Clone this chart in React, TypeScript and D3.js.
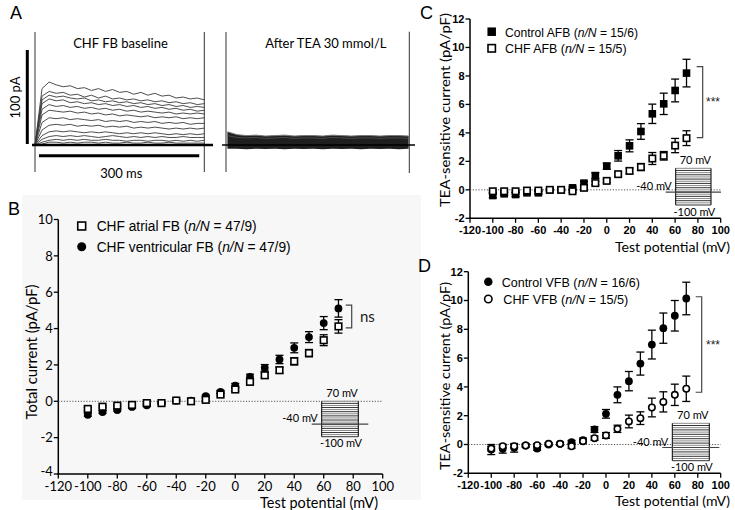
import React, { useLayoutEffect, useRef, useState } from "react";
import * as d3 from "d3";

// ---------------- data ----------------
const voltages = [-100, -90, -80, -70, -60, -50, -40, -30, -20, -10, 0, 10, 20, 30, 40, 50, 60, 70];
const xTickValues = [-120, -100, -80, -60, -40, -20, 0, 20, 40, 60, 80, 100];
const yTicksB = [-4, -2, 0, 2, 4, 6, 8, 10];
const yTicksCD = [-2, 0, 2, 4, 6, 8, 10, 12];

// Panel B (total current, pA/pF)
const bAtrialMean = [-0.42, -0.3, -0.24, -0.2, -0.1, -0.1, 0.04, 0.0, 0.08, 0.37, 0.65, 1.07, 1.43, 1.71, 2.2, 2.65, 3.36, 4.12];
const bAtrialSem = [0.08, 0.06, 0.05, 0.05, 0.05, 0.05, 0.05, 0.05, 0.06, 0.08, 0.1, 0.12, 0.14, 0.17, 0.2, 0.2, 0.3, 0.37];
const bVentMean = [-0.74, -0.59, -0.48, -0.31, -0.22, -0.09, 0.04, 0.04, 0.28, 0.51, 0.86, 1.34, 1.84, 2.3, 2.94, 3.53, 4.3, 5.11];
const bVentSem = [0.08, 0.07, 0.06, 0.06, 0.05, 0.05, 0.05, 0.05, 0.07, 0.09, 0.12, 0.15, 0.18, 0.23, 0.27, 0.3, 0.36, 0.48];

// Panel C (TEA-sensitive, atrial)
const cControlMean = [-0.4, -0.28, -0.33, -0.21, -0.21, 0, 0, 0.14, 0.47, 1.0, 1.66, 2.39, 3.09, 4.1, 5.34, 6.04, 6.98, 8.2];
const cControlSem = [0.15, 0.12, 0.15, 0.1, 0.1, 0.08, 0.08, 0.1, 0.12, 0.2, 0.22, 0.37, 0.42, 0.55, 0.68, 0.75, 0.8, 0.97];
const cChfMean = [-0.1, -0.1, -0.1, -0.05, -0.05, 0, 0, -0.1, 0.14, 0.47, 0.63, 1.1, 1.33, 1.6, 2.2, 2.39, 3.11, 3.63];
const cChfSem = [0.08, 0.08, 0.08, 0.08, 0.06, 0.06, 0.06, 0.08, 0.1, 0.12, 0.12, 0.15, 0.2, 0.25, 0.42, 0.3, 0.5, 0.52];

// Panel D (TEA-sensitive, ventricular)
const dControlMean = [-0.35, -0.3, -0.23, -0.07, -0.28, 0, 0.05, 0.16, 0.3, 1.04, 2.13, 3.45, 4.4, 5.62, 6.94, 8.08, 8.94, 10.14];
const dControlSem = [0.35, 0.3, 0.3, 0.1, 0.12, 0.1, 0.1, 0.12, 0.15, 0.2, 0.3, 0.55, 0.67, 0.8, 1.0, 1.05, 1.06, 1.13];
const dChfMean = [-0.28, -0.12, -0.12, -0.07, -0.05, 0.05, 0.05, -0.12, 0.23, 0.44, 0.63, 1.09, 1.6, 1.83, 2.57, 2.96, 3.45, 3.87];
const dChfSem = [0.15, 0.12, 0.12, 0.1, 0.1, 0.08, 0.08, 0.15, 0.12, 0.15, 0.2, 0.25, 0.44, 0.44, 0.65, 0.7, 0.74, 0.88];

// significance brackets [top, bottom] in pA/pF
const bBracket = [5.29, 4.04];
const cBracket = [8.65, 3.67];
const dBracket = [10.26, 3.63];

// Voltage protocol
const protocolSteps = voltages;
const holdingPotential = -40;

// Panel A traces (pA), sampled evenly over the 317 ms sweep
const sweepMs = 317;
const baselineTraces = [
  [0, 60, 67, 64, 62, 63, 60, 61, 58, 60, 57, 59, 56, 57, 54, 56, 53, 55, 52, 53, 50, 51, 49, 50, 48],
  [0, 52, 57, 55, 56, 53, 54, 51, 53, 50, 52, 49, 50, 48, 49, 47, 48, 46, 47, 45, 46, 44, 45, 43, 44],
  [0, 48, 53, 51, 52, 50, 49, 50, 47, 48, 46, 47, 45, 46, 44, 45, 43, 44, 42, 43, 41, 42, 40, 41, 40],
  [0, 44, 49, 47, 48, 45, 46, 44, 45, 43, 44, 42, 43, 41, 42, 40, 41, 39, 40, 38, 39, 37, 38, 36, 37],
  [0, 38, 43, 41, 42, 40, 41, 39, 40, 38, 39, 37, 38, 36, 37, 35, 36, 35, 34, 35, 33, 34, 33, 34, 33],
  [0, 32, 37, 36, 35, 36, 34, 35, 33, 34, 32, 33, 31, 32, 31, 30, 31, 29, 30, 29, 30, 28, 29, 28, 29],
  [0, 24, 29, 28, 29, 27, 28, 27, 26, 27, 25, 26, 25, 26, 24, 25, 24, 25, 23, 24, 23, 24, 22, 23, 23],
  [0, 16, 21, 22, 21, 22, 20, 21, 20, 21, 19, 20, 19, 20, 18, 19, 18, 19, 18, 17, 18, 17, 18, 17, 18],
  [0, 10, 14, 15, 14, 15, 14, 13, 14, 13, 14, 13, 12, 13, 12, 13, 12, 13, 12, 11, 12, 11, 12, 11, 12],
  [0, 6, 9, 10, 9, 10, 9, 10, 9, 8, 9, 10, 9, 8, 9, 8, 9, 8, 9, 8, 8, 9, 8, 8, 8],
  [0, 3, 5, 6, 5, 6, 5, 6, 5, 5, 6, 5, 5, 4, 5, 5, 4, 5, 5, 4, 5, 4, 5, 4, 5],
  [0, 1, 3, 3, 2, 3, 2, 3, 3, 2, 3, 2, 2, 3, 2, 2, 3, 2, 2, 3, 2, 2, 2, 2, 2],
];
const teaUpper = [14, 11, 10, 10.5, 9.5, 10, 10.5, 9.5, 10, 10, 9.5, 10.5, 10, 9.5, 10, 10, 9.5, 10, 10, 9.5];
const teaInner = [10, 8, 7.5, 8, 7, 7.5, 8, 7, 7.5, 7.5, 7, 8, 7.5, 7, 7.5, 7.5, 7, 7.5, 7.5, 7];
const teaLower = [-4, -4, -4.5, -4, -4.2, -4, -4.5, -4, -4.2, -4, -4.5, -4, -4.2, -4, -4.5, -4, -4.2, -4, -4.5, -4];
const scaleBarPA = 100;
const scaleBarMs = 300;

// ---------------- styling ----------------
const CAL = "Lato, 'Open Sans', 'DejaVu Sans', sans-serif";
const ARI = "'Liberation Sans', Arial, sans-serif";
const ARIN = "'Liberation Sans Narrow', 'Arial Narrow', 'Liberation Sans', Arial, sans-serif";

type Lin = d3.ScaleLinear<number, number>;

function Marker({ shape, filled, cx, cy, size }: { shape: string; filled: boolean; cx: number; cy: number; size: number }) {
  const sw = 1.6;
  if (shape === "square") {
    const s = filled ? size : size - sw;
    return <rect x={cx - s / 2} y={cy - s / 2} width={s} height={s} fill={filled ? "#000" : "#fff"} stroke="#000" strokeWidth={filled ? 0 : sw} />;
  }
  const r = filled ? size / 2 : (size - sw) / 2;
  return <circle cx={cx} cy={cy} r={r} fill={filled ? "#000" : "#fff"} stroke="#000" strokeWidth={filled ? 0 : sw} />;
}

function Series({ x, y, mean, sem, shape, filled, size }: { x: Lin; y: Lin; mean: number[]; sem: number[]; shape: string; filled: boolean; size: number }) {
  return (
    <g>
      {voltages.map((v, i) => {
        const cx = x(v);
        const top = y(mean[i] + sem[i]);
        const bot = y(mean[i] - sem[i]);
        return (
          <g key={v} stroke="#000" strokeWidth={1.3}>
            <line x1={cx} x2={cx} y1={top} y2={bot} />
            <line x1={cx - 4} x2={cx + 4} y1={top} y2={top} />
            <line x1={cx - 4} x2={cx + 4} y1={bot} y2={bot} />
          </g>
        );
      })}
      {voltages.map((v, i) => (
        <Marker key={"m" + v} shape={shape} filled={filled} cx={x(v)} cy={y(mean[i])} size={size} />
      ))}
    </g>
  );
}

function Axes({ x, y, yTicks, font, size, weight, xLabelBaseline, lowLift = 0 }: { x: Lin; y: Lin; yTicks: number[]; font: string; size: number; weight: string; xLabelBaseline: number; lowLift?: number }) {
  const [x0, x1] = x.range();
  const [yb, yt] = y.range();
  return (
    <g>
      <line x1={x0} x2={x0} y1={yt} y2={yb} stroke="#000" strokeWidth={1.5} />
      <line x1={x0 - 0.75} x2={x1} y1={yb} y2={yb} stroke="#000" strokeWidth={1.5} />
      {yTicks.map((t, i) => (
        <g key={"y" + t}>
          <line x1={x0 - 4.5} x2={x0} y1={y(t)} y2={y(t)} stroke="#000" strokeWidth={1.3} />
          <text x={x0 - 5.5} y={y(t) - (i === 0 ? lowLift : 0)} dy="0.36em" textAnchor="end" fontFamily={font} fontSize={size} fontWeight={weight}>{t}</text>
        </g>
      ))}
      {xTickValues.map((t) => (
        <g key={"x" + t}>
          <line x1={x(t)} x2={x(t)} y1={yb} y2={yb + 4.5} stroke="#000" strokeWidth={1.3} />
          <text x={x(t)} y={xLabelBaseline} textAnchor="middle" fontFamily={font} fontSize={size} fontWeight={weight}>{t}</text>
        </g>
      ))}
      <line x1={x0} x2={x1} y1={y(0)} y2={y(0)} stroke="#555" strokeWidth={1} strokeDasharray="1.2 1.6" />
    </g>
  );
}

function Protocol({ left, right, top, bottom }: { left: number; right: number; top: number; bottom: number }) {
  const s = d3.scaleLinear().domain([d3.min(protocolSteps)!, d3.max(protocolSteps)!]).range([bottom, top]);
  const cx = (left + right) / 2;
  return (
    <g>
      <rect x={left} y={top} width={right - left} height={bottom - top} fill="#fff" />
      {protocolSteps.map((v, i) => (
        <line key={v} x1={left} x2={right} y1={s(v)} y2={s(v)} stroke={i % 2 ? "#8a8a8a" : "#333"} strokeWidth={1} />
      ))}
      <line x1={left} x2={left} y1={top} y2={bottom} stroke="#000" strokeWidth={1} />
      <line x1={right} x2={right} y1={top} y2={bottom} stroke="#000" strokeWidth={1} />
      <line x1={left - 10} x2={right + 10} y1={s(holdingPotential)} y2={s(holdingPotential)} stroke="#444" strokeWidth={1.2} />
      <text x={cx + 2} y={top - 4.5} textAnchor="middle" fontFamily={CAL} fontSize={11}>70 mV</text>
      <text x={left - 4} y={s(holdingPotential) - 2} textAnchor="end" fontFamily={CAL} fontSize={11}>-40 mV</text>
      <text x={cx + 1} y={bottom + 10.5} textAnchor="middle" fontFamily={CAL} fontSize={11}>-100 mV</text>
    </g>
  );
}

function Bracket({ y, xPos, vals, label, labelX, font, size }: { y: Lin; xPos: number; vals: number[]; label: string; labelX: number; font: string; size: number }) {
  const t = y(vals[0]);
  const b = y(vals[1]);
  return (
    <g>
      <path d={`M${xPos - 6},${t}H${xPos}V${b}H${xPos - 6}`} fill="none" stroke="#444" strokeWidth={1.2} />
      <text x={labelX} y={(t + b) / 2} dy="0.35em" fontFamily={font} fontSize={size} fill="#222">{label}</text>
    </g>
  );
}

// legend label: plain text + italic "n/N" + plain text laid out side by side;
// the font size is reduced if needed so the whole label fits the reference width
function LegendText({ x, y, pre, post, len }: { x: number; y: number; pre: string; post: string; len: number }) {
  const r0 = useRef<SVGTextElement>(null);
  const r1 = useRef<SVGTextElement>(null);
  const r2 = useRef<SVGTextElement>(null);
  const refs = [r0, r1, r2];
  const [w, setW] = useState<number[] | null>(null);
  useLayoutEffect(() => {
    if (!w) setW(refs.map((r) => (r.current ? r.current.getComputedTextLength() : 10)));
  }, []);
  const base = 14;
  const parts = [pre, "n/N", post];
  let offs = [0, 0, 0];
  let k = 1;
  if (w) {
    const tot = w[0] + w[1] + w[2];
    k = Math.min(1, len / tot);
    offs = [0, w[0] * k, (w[0] + w[1]) * k];
  }
  return (
    <g>
      {parts.map((p, i) => (
        <text
          key={i}
          ref={refs[i]}
          x={x + offs[i]}
          y={y}
          fontFamily={ARIN}
          fontSize={base * k}
          fontStyle={i === 1 ? "italic" : "normal"}
          style={{ whiteSpace: "pre" }}
          opacity={w ? 1 : 0}
        >
          {p}
        </text>
      ))}
    </g>
  );
}

function PanelA() {
  const t = d3.scaleLinear().domain([0, sweepMs]).range([35, 204.3]);
  const yA = d3.scaleLinear().domain([0, scaleBarPA]).range([145, 51]);
  const n = baselineTraces[0].length;
  const line = d3.line<number>().x((_, i) => t((i * sweepMs) / (n - 1))).y((v) => yA(v));
  const tt = d3.scaleLinear().domain([0, sweepMs]).range([226, 409]);
  const m = teaUpper.length;
  const tx = (i: number) => tt(((i + 0.15) * sweepMs) / (m - 1) * 0.99);
  const area = d3.area<number>().x((_, i) => tx(i)).y0((_, i) => yA(teaLower[i])).y1((v) => yA(v));
  const lineT = d3.line<number>().x((_, i) => tx(i)).y((v) => yA(v));
  return (
    <g>
      <text x={10} y={19} fontFamily={ARI} fontSize={18}>A</text>
      <text x={120.5} y={47.5} textAnchor="middle" fontFamily={CAL} fontSize={13}>CHF FB baseline</text>
      <text x={325.8} y={47.5} textAnchor="middle" fontFamily={CAL} fontSize={13}>After TEA 30 mmol/L</text>
      {/* scale bars */}
      <line x1={27.3} x2={27.3} y1={yA(0) - 1} y2={yA(scaleBarPA) - 1} stroke="#000" strokeWidth={3} />
      <text transform={`translate(19.5,97.5) rotate(-90)`} textAnchor="middle" fontFamily={CAL} fontSize={13}>100 pA</text>
      <line x1={t(7.5)} x2={t(7.5 + scaleBarMs)} y1={155.7} y2={155.7} stroke="#000" strokeWidth={3} />
      <text x={121.3} y={177.5} textAnchor="middle" fontFamily={CAL} fontSize={13}>300 ms</text>
      {/* baseline sweep */}
      <line x1={35} x2={35} y1={32} y2={172} stroke="#333" strokeWidth={1} />
      <line x1={204.3} x2={204.3} y1={32} y2={172} stroke="#333" strokeWidth={1} />
      {baselineTraces.map((tr, i) => (
        <path key={i} d={line(tr)!} fill="none" stroke="#3a3a3a" strokeWidth={0.9} />
      ))}
      <line x1={32} x2={213} y1={yA(0)} y2={yA(0)} stroke="#000" strokeWidth={2.6} />
      {/* after TEA */}
      <line x1={226} x2={226} y1={32} y2={172} stroke="#333" strokeWidth={1} />
      <line x1={409.3} x2={409.3} y1={31.7} y2={173} stroke="#333" strokeWidth={1} />
      <path d={area(teaUpper)!} fill="#1f1f1f" />
      <path d={lineT(teaUpper)!} fill="none" stroke="#777" strokeWidth={1} />
      <path d={lineT(teaInner)!} fill="none" stroke="#555" strokeWidth={0.8} />
      <line x1={222} x2={415} y1={yA(0)} y2={yA(0)} stroke="#000" strokeWidth={1.5} />
    </g>
  );
}

function PanelB() {
  const x = d3.scaleLinear().domain([-120, 100]).range([58.3, 382.7]);
  const y = d3.scaleLinear().domain([-4, 10]).range([474, 219.5]);
  return (
    <g>
      <rect x={22} y={195} width={399} height={305} fill="#f7f7f7" />
      <text x={8} y={215} fontFamily={ARI} fontSize={18}>B</text>
      <Axes x={x} y={y} yTicks={yTicksB} font={CAL} size={13} weight="normal" xLabelBaseline={491} lowLift={2.5} />
      <Protocol left={321.7} right={358.3} top={y(0)} bottom={436.7} />
      <Series x={x} y={y} mean={bVentMean} sem={bVentSem} shape="circle" filled={true} size={7.8} />
      <Series x={x} y={y} mean={bAtrialMean} sem={bAtrialSem} shape="square" filled={false} size={8.2} />
      <Bracket y={y} xPos={351.7} vals={bBracket} label="ns" labelX={360} font={CAL} size={15} />
      <text x={260} y={507.5} fontFamily={CAL} fontSize={15} textLength={118} lengthAdjust="spacingAndGlyphs">Test potential (mV)</text>
      <text transform={`translate(37,352) rotate(-90)`} textAnchor="middle" fontFamily={CAL} fontSize={15} textLength={135} lengthAdjust="spacingAndGlyphs">Total current (pA/pF)</text>
      <Marker shape="square" filled={false} cx={81.7} cy={226} size={9.5} />
      <LegendText x={96.7} y={231} pre="CHF atrial FB (" post=" = 47/9)" len={160} />
      <Marker shape="circle" filled={true} cx={81.7} cy={246.7} size={9} />
      <LegendText x={96.7} y={251.7} pre="CHF ventricular FB (" post=" = 47/9)" len={194} />
    </g>
  );
}

function PanelC() {
  const x = d3.scaleLinear().domain([-120, 100]).range([470, 720.7]);
  const y = d3.scaleLinear().domain([-2, 12]).range([218.3, 19]);
  return (
    <g>
      <text x={420} y={19} fontFamily={ARI} fontSize={18}>C</text>
      <Axes x={x} y={y} yTicks={yTicksCD} font={ARI} size={11} weight="bold" xLabelBaseline={234} />
      <Protocol left={675.7} right={711} top={168.3} bottom={205} />
      <Series x={x} y={y} mean={cControlMean} sem={cControlSem} shape="square" filled={true} size={7.6} />
      <Series x={x} y={y} mean={cChfMean} sem={cChfSem} shape="square" filled={false} size={8} />
      <Bracket y={y} xPos={702.7} vals={cBracket} label="***" labelX={706} font={ARI} size={12} />
      <text x={615} y={251.5} fontFamily={CAL} fontSize={14} textLength={115} lengthAdjust="spacingAndGlyphs">Test potential (mV)</text>
      <text transform={`translate(450,110) rotate(-90)`} textAnchor="middle" fontFamily={CAL} fontSize={14} textLength={194} lengthAdjust="spacingAndGlyphs">TEA-sensitive current (pA/pF)</text>
      <Marker shape="square" filled={true} cx={491.7} cy={31.7} size={8.5} />
      <LegendText x={505} y={36.5} pre="Control AFB (" post=" = 15/6)" len={133} />
      <Marker shape="square" filled={false} cx={491.7} cy={48.3} size={9} />
      <LegendText x={505} y={53.1} pre="CHF AFB (" post=" = 15/5)" len={121.7} />
    </g>
  );
}

function PanelD() {
  const x = d3.scaleLinear().domain([-120, 100]).range([468.3, 720.7]);
  const y = d3.scaleLinear().domain([-2, 12]).range([473.3, 271.7]);
  return (
    <g>
      <text x={418} y={272} fontFamily={ARI} fontSize={18}>D</text>
      <Axes x={x} y={y} yTicks={yTicksCD} font={ARI} size={11} weight="bold" xLabelBaseline={488.5} />
      <Protocol left={672.3} right={709.3} top={423.3} bottom={460.7} />
      <Series x={x} y={y} mean={dControlMean} sem={dControlSem} shape="circle" filled={true} size={7.8} />
      <Series x={x} y={y} mean={dChfMean} sem={dChfSem} shape="circle" filled={false} size={8} />
      <Bracket y={y} xPos={701.7} vals={dBracket} label="***" labelX={706} font={ARI} size={12} />
      <text x={615} y={505.5} fontFamily={CAL} fontSize={14} textLength={115} lengthAdjust="spacingAndGlyphs">Test potential (mV)</text>
      <text transform={`translate(450,376) rotate(-90)`} textAnchor="middle" fontFamily={CAL} fontSize={14} textLength={188} lengthAdjust="spacingAndGlyphs">TEA-sensitive current (pA/pF)</text>
      <Marker shape="circle" filled={true} cx={488.3} cy={281.7} size={8.5} />
      <LegendText x={501.7} y={286.5} pre="Control VFB (" post=" = 16/6)" len={138.3} />
      <Marker shape="circle" filled={false} cx={488.3} cy={299} size={9} />
      <LegendText x={503.3} y={303.8} pre="CHF VFB (" post=" = 15/5)" len={125} />
    </g>
  );
}

export default function App() {
  return (
    <svg width={735} height={510} viewBox="0 0 735 510" style={{ position: "absolute", left: 0, top: 0, background: "#fff" }}>
      <rect width={735} height={510} fill="#fff" />
      <PanelA />
      <PanelB />
      <PanelC />
      <PanelD />
    </svg>
  );
}
